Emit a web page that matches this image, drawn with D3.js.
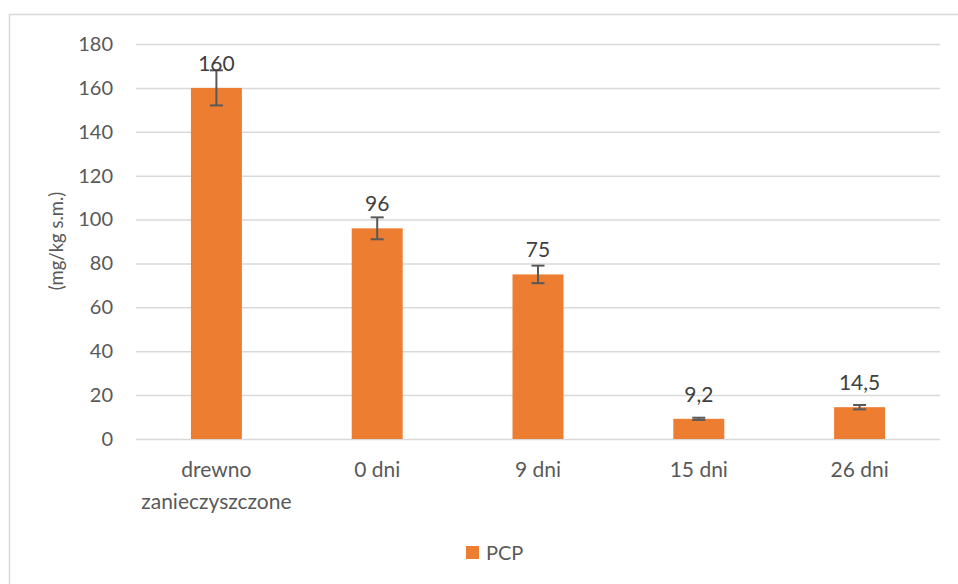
<!DOCTYPE html>
<html><head><meta charset="utf-8">
<script src="https://cdn.jsdelivr.net/npm/d3@7"></script>
<style>body{margin:0;background:#fff}svg{display:block}text{font-family:Lato,"Open Sans",sans-serif}</style>
</head><body><svg id="c" width="958" height="584"></svg>
<script>
const categories = [["drewno","zanieczyszczone"],["0 dni"],["9 dni"],["15 dni"],["26 dni"]];
const values = [160, 96, 75, 9.2, 14.5];
const errors = [8, 5, 4, 0.5, 1];
const valueLabels = ["160","96","75","9,2","14,5"];
const yTicks = [0,20,40,60,80,100,120,140,160,180];
const seriesName = "PCP";

const svg = d3.select("#c");
svg.append("rect").attr("x",9.5).attr("y",14.5).attr("width",960).attr("height",600)
  .attr("fill","#fff").attr("stroke","#d9d9d9").attr("stroke-width",1.5);

const pL=136, pR=940, pT=44, pB=439;
const x = d3.scaleBand().domain(d3.range(values.length)).range([pL,pR]).paddingInner(0.683).paddingOuter(0.3415);
const y = d3.scaleLinear().domain([0,180]).range([pB,pT]);

const yAxis = d3.axisLeft(y).tickValues(yTicks).tickSize(0).tickPadding(23).tickFormat(d3.format("d"));
const ga = svg.append("g").attr("transform",`translate(${pL},0)`).call(yAxis);
ga.select(".domain").remove();
ga.selectAll(".tick line").attr("stroke","#d9d9d9").attr("stroke-width",1.5).attr("x1",0).attr("x2",pR-pL);
ga.selectAll(".tick text").attr("fill","#595959").style("font-size","20px");

svg.append("g").selectAll("rect").data(values).join("rect")
  .attr("x",(d,i)=>x(i)).attr("width",x.bandwidth())
  .attr("y",d=>y(d)).attr("height",d=>y(0)-y(d)).attr("fill","#ed7d31");

const eb = svg.append("g").attr("stroke","#595959").attr("stroke-width",2);
values.forEach((v,i)=>{
  const cx = x(i)+x.bandwidth()/2;
  eb.append("line").attr("x1",cx).attr("x2",cx).attr("y1",y(v+errors[i])).attr("y2",y(v-errors[i]));
  [v+errors[i], v-errors[i]].forEach(e=>eb.append("line").attr("x1",cx-6.5).attr("x2",cx+6.5).attr("y1",y(e)).attr("y2",y(e)));
});

svg.append("g").selectAll("text").data(values).join("text")
  .attr("x",(d,i)=>x(i)+x.bandwidth()/2).attr("y",d=>y(d)-17)
  .attr("text-anchor","middle").attr("fill","#404040").style("font-size","21px")
  .text((d,i)=>valueLabels[i]);

const cl = svg.append("g");
categories.forEach((c,i)=>{
  const t = cl.append("text").attr("x",x(i)+x.bandwidth()/2).attr("y",477)
    .attr("text-anchor","middle").attr("fill","#595959").style("font-size","21px");
  c.forEach((line,j)=>t.append("tspan").attr("x",x(i)+x.bandwidth()/2).attr("dy",j?32:0).text(line));
});

svg.append("text").attr("transform","translate(63,241) rotate(-90)").attr("text-anchor","middle")
  .attr("fill","#595959").style("font-size","18.5px").text("(mg/kg s.m.)");

svg.append("rect").attr("x",466).attr("y",546).attr("width",13).attr("height",13).attr("fill","#ed7d31");
svg.append("text").attr("x",486).attr("y",560).attr("fill","#595959").style("font-size","20px").text(seriesName);
</script></body></html>
